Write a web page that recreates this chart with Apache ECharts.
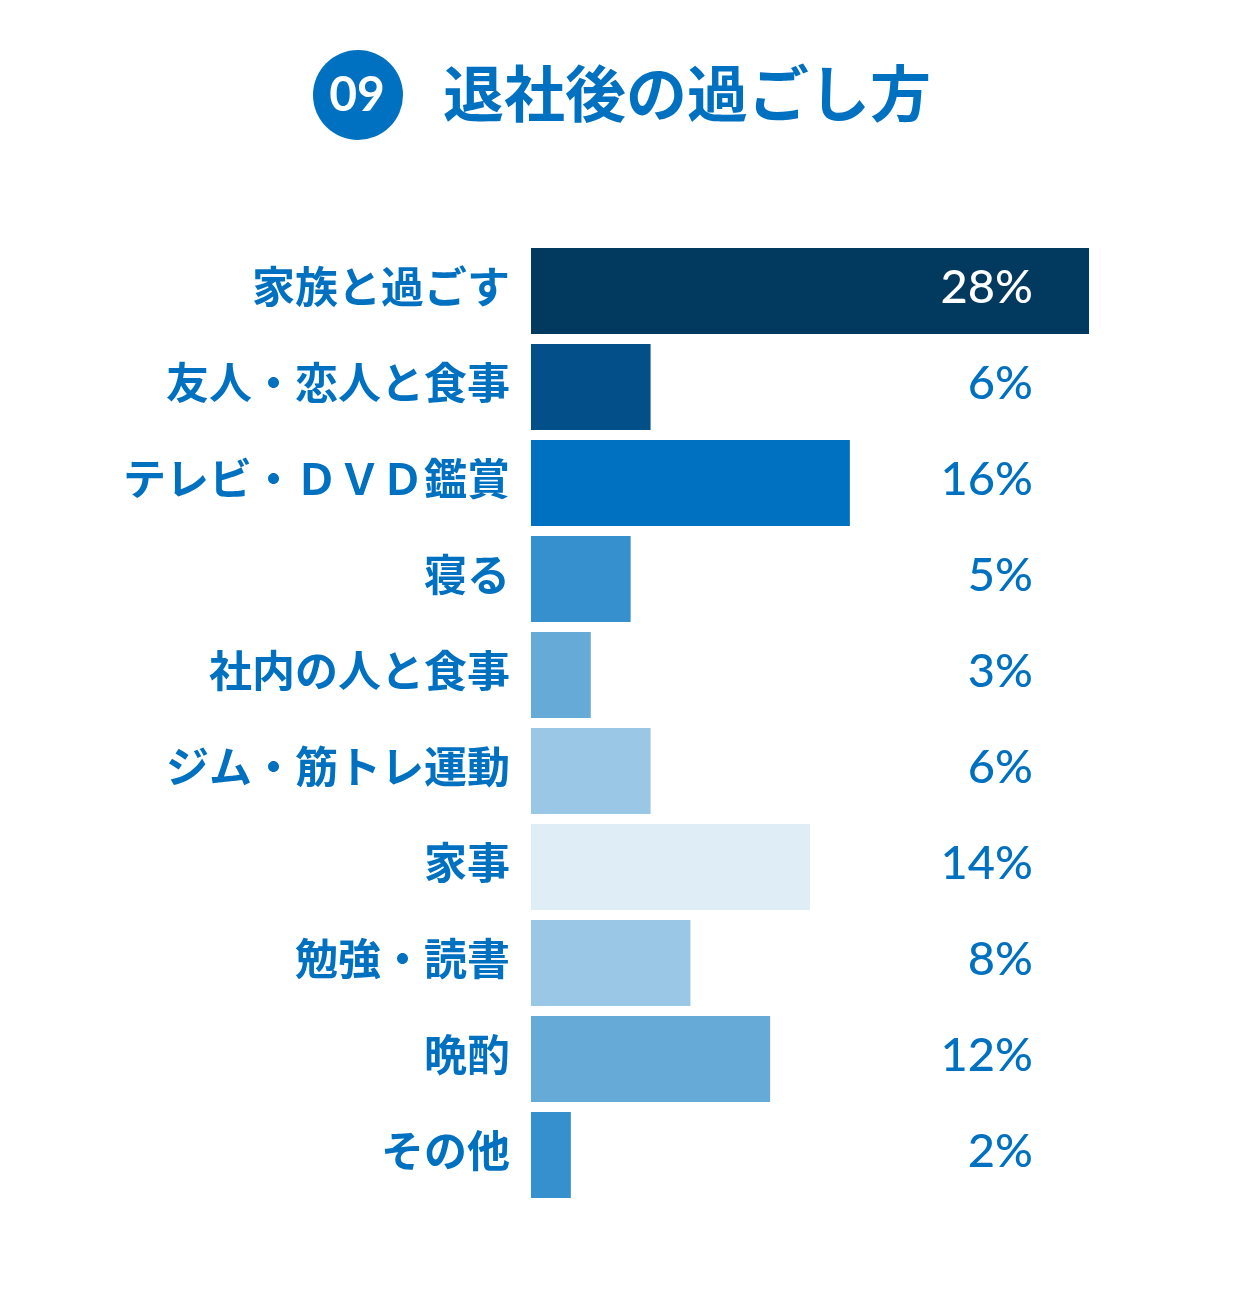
<!DOCTYPE html>
<html>
<head>
<meta charset="utf-8">
<script src="https://cdn.jsdelivr.net/npm/echarts@6/dist/echarts.min.js"></script>
<style>
html,body{margin:0;padding:0;background:#fff;}
#chart{width:1240px;height:1300px;}
</style>
</head>
<body>
<div id="chart"></div>
<script>
const titleNumber = '09';
const titleText = '退社後の過ごし方';
const categories = ['家族と過ごす','友人・恋人と食事','テレビ・ＤＶＤ鑑賞','寝る','社内の人と食事','ジム・筋トレ運動','家事','勉強・読書','晩酌','その他'];
const values = [28, 6, 16, 5, 3, 6, 14, 8, 12, 2];
const barColors = ['#02395e','#024f89','#0070c0','#3590cd','#66abd8','#9ac7e5','#dfedf7','#9ac7e5','#66abd8','#3590cd'];
const valueLabelColors = ['#ffffff','#0070c0','#0070c0','#0070c0','#0070c0','#0070c0','#0070c0','#0070c0','#0070c0','#0070c0'];

const blue = '#0070c0';
const chart = echarts.init(document.getElementById('chart'), null, {renderer:'canvas'});
chart.setOption({
  backgroundColor:'#ffffff',
  animation:false,
  grid:{left:531, right:151, top:243, bottom:97, containLabel:false},
  xAxis:{type:'value', min:0, max:28, show:false},
  yAxis:{
    type:'category', data:categories, inverse:true,
    axisLine:{show:false}, axisTick:{show:false},
    axisLabel:{margin:21, color:blue, fontSize:43, fontWeight:'bold', fontFamily:'Noto Sans CJK JP',
      formatter:v=>'{t|'+v+'}',
      rich:{t:{fontSize:43, fontWeight:'bold', fontFamily:'Noto Sans CJK JP', color:blue, padding:[0,0,8,0]}}}
  },
  series:[{
    type:'bar',
    data:values.map((v,i)=>({value:v, itemStyle:{color:barColors[i]}, label:{color:valueLabelColors[i]}})),
    barCategoryGap:'10.4%',
    label:{
      show:true,
      position:[502,'50%'],
      offset:[0,-3],
      align:'right',
      verticalAlign:'middle',
      fontSize:47,
      fontFamily:'Lato',
      fontWeight:500,
      formatter:p=>p.value+'%'
    }
  }],
  graphic:[
    {type:'circle', shape:{cx:358, cy:95, r:45}, style:{fill:blue}},
    {type:'text', x:357, y:96, style:{text:titleNumber, fill:'#fff', font:'bold 48px Lato', textAlign:'center', textVerticalAlign:'middle'}},
    {type:'text', x:443, y:94, style:{text:titleText, fill:blue, font:'bold 61px "Noto Sans CJK JP"', textAlign:'left', textVerticalAlign:'middle'}}
  ]
});
</script>
</body>
</html>
